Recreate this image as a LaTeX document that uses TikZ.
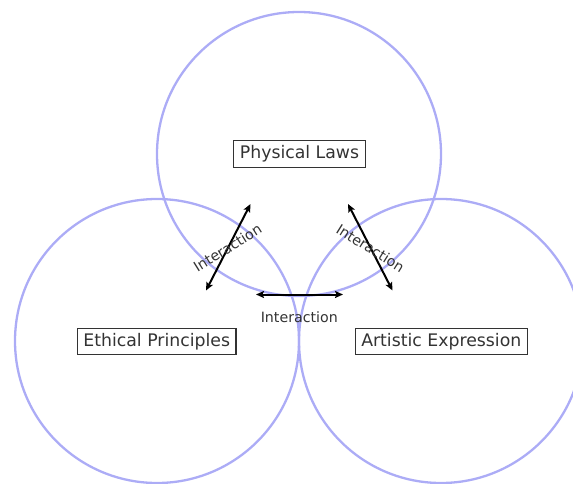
\documentclass[tikz,border=0pt]{standalone}
\usepackage{fontspec}
\setmainfont{DejaVu Sans}
\usetikzlibrary{arrows.meta}
\definecolor{ringblue}{RGB}{172,172,246}
\definecolor{inkgrey}{RGB}{51,51,51}

\begin{document}
\begin{tikzpicture}[x=1pt, y=-1pt,
  ring/.style={circle, draw=ringblue, line width=2.3pt, minimum size=284pt, inner sep=0pt},
  topic/.style={draw=inkgrey, line width=1.1pt, text=inkgrey, inner xsep=6pt, inner ysep=5pt, font=\fontsize{17.3}{20}\selectfont},
  link/.style={{Stealth[length=8pt,width=7pt,inset=1.5pt]}-{Stealth[length=8pt,width=7pt,inset=1.5pt]}, line width=2pt},
  tag/.style={text=inkgrey, font=\fontsize{14.2}{16}\selectfont, inner sep=0pt}]
\useasboundingbox (0,0) rectangle (573,484);

% the three domains
\node[ring] (physring) at (299,154) {};
\node[ring] (ethring) at (157,341) {};
\node[ring] (artring) at (441,341) {};

\node[topic] (physical) at (299.5,154) {Physical Laws};
\node[topic] (ethical) at (156.7,341.5) {Ethical Principles};
\node[topic] (artistic) at (441.3,341.5) {Artistic Expression};

% arrow ends
\coordinate (pe-top) at (250.5,204);
\coordinate (pe-bot) at (206,290.5);
\coordinate (pa-top) at (348,204);
\coordinate (pa-bot) at (392.5,290.5);
\coordinate (ea-left) at (256,294.5);
\coordinate (ea-right) at (343,294.5);

\draw[link] (pe-bot) -- (pe-top);
\draw[link] (pa-top) -- (pa-bot);
\draw[link] (ea-left) -- (ea-right);

\node[tag, rotate=32] (pe-tag) at (227.5,248) {Interaction};
\node[tag, rotate=-32] (pa-tag) at (370.5,248) {Interaction};
\node[tag] (ea-tag) at (299.3,317) {Interaction};
\end{tikzpicture}
\end{document}
